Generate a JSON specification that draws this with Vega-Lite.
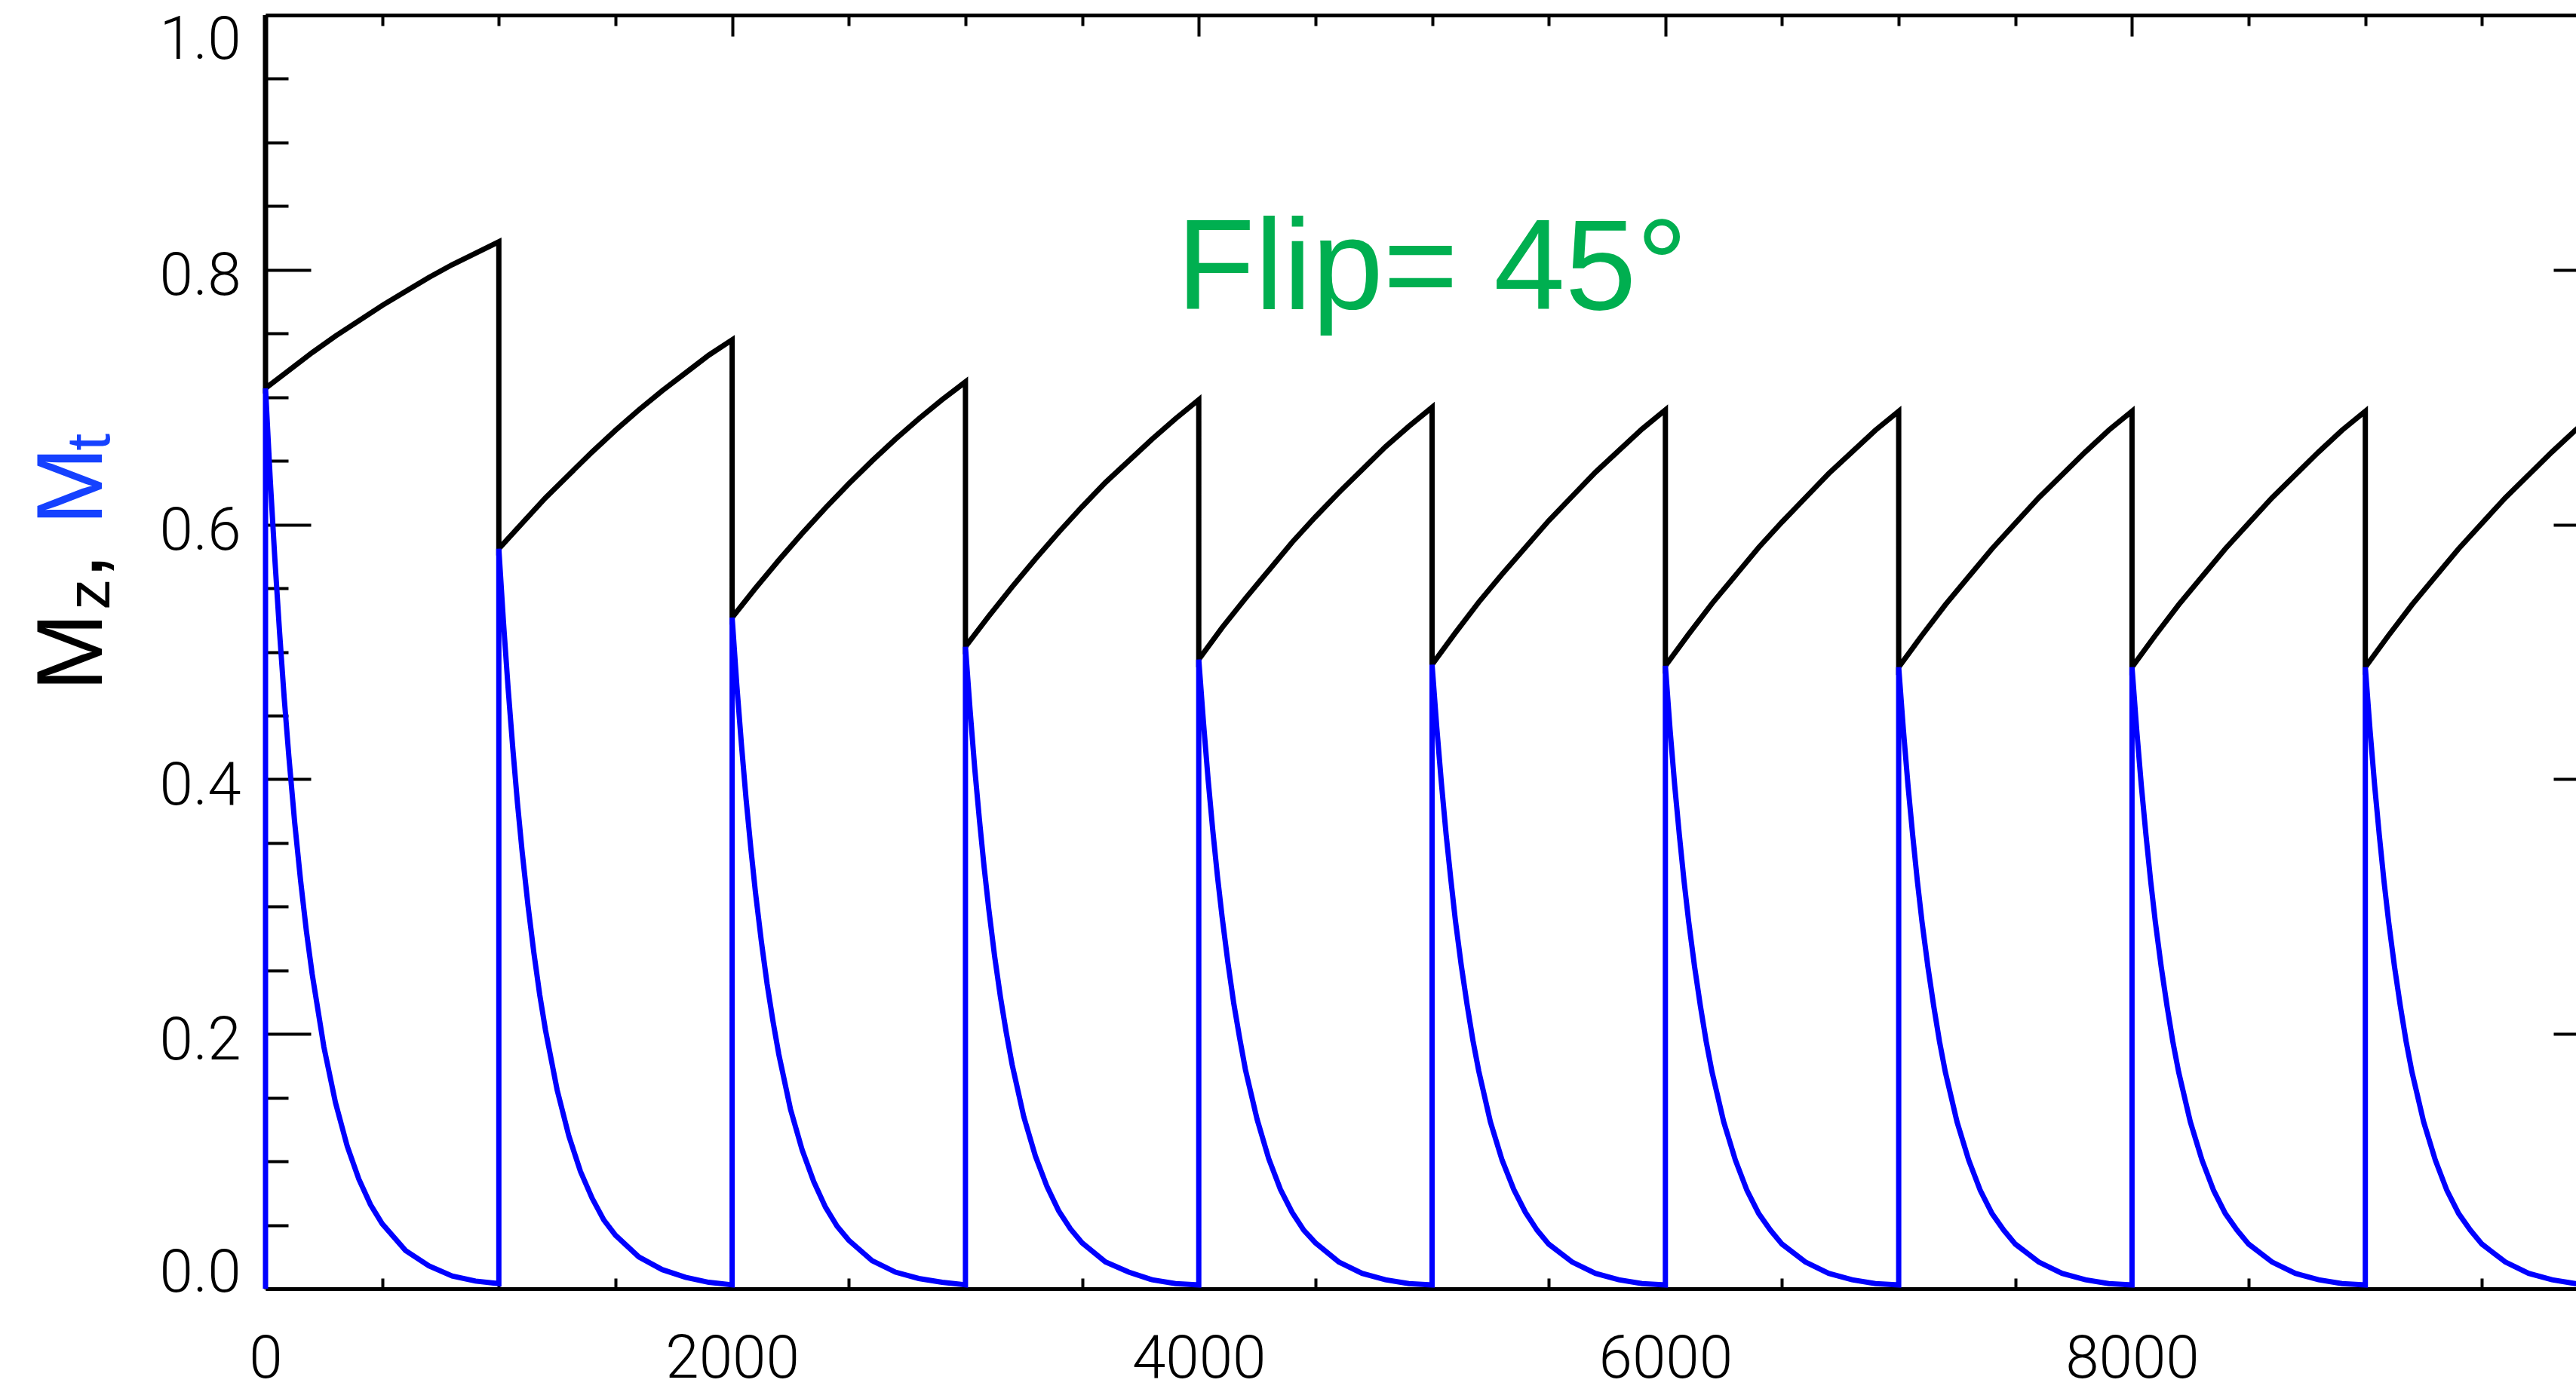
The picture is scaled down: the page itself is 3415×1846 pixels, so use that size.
{
  "$schema": "https://vega.github.io/schema/vega-lite/v6.json",
  "width": 3093,
  "height": 1689,
  "autosize": {"type": "none"},
  "padding": {"left": 352, "top": 20, "right": 0, "bottom": 137},
  "background": "white",
  "config": {
    "view": {"stroke": null},
    "axis": {
      "grid": false,
      "domainColor": "black",
      "domainWidth": 5,
      "tickColor": "black",
      "tickWidth": 4,
      "labelFont": "Roboto",
      "labelFontWeight": 300,
      "labelFontSize": 80,
      "labelColor": "black",
      "labelLimit": 1000,
      "title": null
    }
  },
  "datasets": {
    "mz": [
      {"t": 0, "v": 1.0, "k": 0}, {"t": 0, "v": 0.707, "k": 1},
      {"t": 100, "v": 0.721, "k": 2}, {"t": 200, "v": 0.735, "k": 3}, {"t": 300, "v": 0.748, "k": 4}, {"t": 400, "v": 0.760, "k": 5}, {"t": 500, "v": 0.772, "k": 6},
      {"t": 600, "v": 0.783, "k": 7}, {"t": 700, "v": 0.794, "k": 8}, {"t": 800, "v": 0.804, "k": 9}, {"t": 900, "v": 0.813, "k": 10}, {"t": 1000, "v": 0.822, "k": 11},
      {"t": 1000, "v": 0.581, "k": 12},
      {"t": 1100, "v": 0.601, "k": 13}, {"t": 1200, "v": 0.621, "k": 14}, {"t": 1300, "v": 0.639, "k": 15}, {"t": 1400, "v": 0.657, "k": 16}, {"t": 1500, "v": 0.674, "k": 17},
      {"t": 1600, "v": 0.690, "k": 18}, {"t": 1700, "v": 0.705, "k": 19}, {"t": 1800, "v": 0.719, "k": 20}, {"t": 1900, "v": 0.733, "k": 21}, {"t": 2000, "v": 0.745, "k": 22},
      {"t": 2000, "v": 0.527, "k": 23},
      {"t": 2100, "v": 0.550, "k": 24}, {"t": 2200, "v": 0.572, "k": 25}, {"t": 2300, "v": 0.593, "k": 26}, {"t": 2400, "v": 0.613, "k": 27}, {"t": 2500, "v": 0.632, "k": 28},
      {"t": 2600, "v": 0.650, "k": 29}, {"t": 2700, "v": 0.667, "k": 30}, {"t": 2800, "v": 0.683, "k": 31}, {"t": 2900, "v": 0.698, "k": 32}, {"t": 3000, "v": 0.712, "k": 33},
      {"t": 3000, "v": 0.504, "k": 34},
      {"t": 3100, "v": 0.528, "k": 35}, {"t": 3200, "v": 0.551, "k": 36}, {"t": 3300, "v": 0.573, "k": 37}, {"t": 3400, "v": 0.594, "k": 38}, {"t": 3500, "v": 0.614, "k": 39},
      {"t": 3600, "v": 0.633, "k": 40}, {"t": 3700, "v": 0.650, "k": 41}, {"t": 3800, "v": 0.667, "k": 42}, {"t": 3900, "v": 0.683, "k": 43}, {"t": 4000, "v": 0.698, "k": 44},
      {"t": 4000, "v": 0.494, "k": 45},
      {"t": 4100, "v": 0.519, "k": 46}, {"t": 4200, "v": 0.542, "k": 47}, {"t": 4300, "v": 0.564, "k": 48}, {"t": 4400, "v": 0.586, "k": 49}, {"t": 4500, "v": 0.606, "k": 50},
      {"t": 4600, "v": 0.625, "k": 51}, {"t": 4700, "v": 0.643, "k": 52}, {"t": 4800, "v": 0.661, "k": 53}, {"t": 4900, "v": 0.677, "k": 54}, {"t": 5000, "v": 0.692, "k": 55},
      {"t": 5000, "v": 0.490, "k": 56},
      {"t": 5100, "v": 0.515, "k": 57}, {"t": 5200, "v": 0.539, "k": 58}, {"t": 5300, "v": 0.561, "k": 59}, {"t": 5400, "v": 0.582, "k": 60}, {"t": 5500, "v": 0.603, "k": 61},
      {"t": 5600, "v": 0.622, "k": 62}, {"t": 5700, "v": 0.641, "k": 63}, {"t": 5800, "v": 0.658, "k": 64}, {"t": 5900, "v": 0.675, "k": 65}, {"t": 6000, "v": 0.690, "k": 66},
      {"t": 6000, "v": 0.489, "k": 67},
      {"t": 6100, "v": 0.514, "k": 68}, {"t": 6200, "v": 0.538, "k": 69}, {"t": 6300, "v": 0.560, "k": 70}, {"t": 6400, "v": 0.582, "k": 71}, {"t": 6500, "v": 0.602, "k": 72},
      {"t": 6600, "v": 0.621, "k": 73}, {"t": 6700, "v": 0.640, "k": 74}, {"t": 6800, "v": 0.657, "k": 75}, {"t": 6900, "v": 0.674, "k": 76}, {"t": 7000, "v": 0.689, "k": 77},
      {"t": 7000, "v": 0.488, "k": 78},
      {"t": 7100, "v": 0.513, "k": 79}, {"t": 7200, "v": 0.537, "k": 80}, {"t": 7300, "v": 0.559, "k": 81}, {"t": 7400, "v": 0.581, "k": 82}, {"t": 7500, "v": 0.601, "k": 83},
      {"t": 7600, "v": 0.621, "k": 84}, {"t": 7700, "v": 0.639, "k": 85}, {"t": 7800, "v": 0.657, "k": 86}, {"t": 7900, "v": 0.674, "k": 87}, {"t": 8000, "v": 0.689, "k": 88},
      {"t": 8000, "v": 0.488, "k": 89},
      {"t": 8100, "v": 0.513, "k": 90}, {"t": 8200, "v": 0.537, "k": 91}, {"t": 8300, "v": 0.559, "k": 92}, {"t": 8400, "v": 0.581, "k": 93}, {"t": 8500, "v": 0.601, "k": 94},
      {"t": 8600, "v": 0.621, "k": 95}, {"t": 8700, "v": 0.639, "k": 96}, {"t": 8800, "v": 0.657, "k": 97}, {"t": 8900, "v": 0.674, "k": 98}, {"t": 9000, "v": 0.689, "k": 99},
      {"t": 9000, "v": 0.488, "k": 100},
      {"t": 9100, "v": 0.513, "k": 101}, {"t": 9200, "v": 0.537, "k": 102}, {"t": 9300, "v": 0.559, "k": 103}, {"t": 9400, "v": 0.581, "k": 104}, {"t": 9500, "v": 0.601, "k": 105},
      {"t": 9600, "v": 0.621, "k": 106}, {"t": 9700, "v": 0.639, "k": 107}, {"t": 9800, "v": 0.657, "k": 108}, {"t": 9900, "v": 0.674, "k": 109}, {"t": 10000, "v": 0.689, "k": 110}
    ],
    "mt": [
      {"t": 0, "v": 0.0, "k": 0},
      {"t": 0, "v": 0.707, "k": 1}, {"t": 20, "v": 0.636, "k": 2}, {"t": 40, "v": 0.573, "k": 3}, {"t": 60, "v": 0.516, "k": 4}, {"t": 80, "v": 0.464, "k": 5}, {"t": 100, "v": 0.418, "k": 6}, {"t": 125, "v": 0.366, "k": 7}, {"t": 150, "v": 0.321, "k": 8}, {"t": 175, "v": 0.281, "k": 9}, {"t": 200, "v": 0.247, "k": 10}, {"t": 250, "v": 0.190, "k": 11}, {"t": 300, "v": 0.146, "k": 12}, {"t": 350, "v": 0.112, "k": 13}, {"t": 400, "v": 0.086, "k": 14}, {"t": 450, "v": 0.066, "k": 15}, {"t": 500, "v": 0.051, "k": 16}, {"t": 600, "v": 0.030, "k": 17}, {"t": 700, "v": 0.018, "k": 18}, {"t": 800, "v": 0.010, "k": 19}, {"t": 900, "v": 0.006, "k": 20}, {"t": 1000, "v": 0.004, "k": 21},
      {"t": 1000, "v": 0.581, "k": 22}, {"t": 1020, "v": 0.523, "k": 23}, {"t": 1040, "v": 0.471, "k": 24}, {"t": 1060, "v": 0.424, "k": 25}, {"t": 1080, "v": 0.381, "k": 26}, {"t": 1100, "v": 0.343, "k": 27}, {"t": 1125, "v": 0.301, "k": 28}, {"t": 1150, "v": 0.264, "k": 29}, {"t": 1175, "v": 0.231, "k": 30}, {"t": 1200, "v": 0.203, "k": 31}, {"t": 1250, "v": 0.156, "k": 32}, {"t": 1300, "v": 0.120, "k": 33}, {"t": 1350, "v": 0.092, "k": 34}, {"t": 1400, "v": 0.071, "k": 35}, {"t": 1450, "v": 0.054, "k": 36}, {"t": 1500, "v": 0.042, "k": 37}, {"t": 1600, "v": 0.025, "k": 38}, {"t": 1700, "v": 0.015, "k": 39}, {"t": 1800, "v": 0.009, "k": 40}, {"t": 1900, "v": 0.005, "k": 41}, {"t": 2000, "v": 0.003, "k": 42},
      {"t": 2000, "v": 0.527, "k": 43}, {"t": 2020, "v": 0.474, "k": 44}, {"t": 2040, "v": 0.427, "k": 45}, {"t": 2060, "v": 0.384, "k": 46}, {"t": 2080, "v": 0.346, "k": 47}, {"t": 2100, "v": 0.311, "k": 48}, {"t": 2125, "v": 0.273, "k": 49}, {"t": 2150, "v": 0.239, "k": 50}, {"t": 2175, "v": 0.210, "k": 51}, {"t": 2200, "v": 0.184, "k": 52}, {"t": 2250, "v": 0.141, "k": 53}, {"t": 2300, "v": 0.109, "k": 54}, {"t": 2350, "v": 0.084, "k": 55}, {"t": 2400, "v": 0.064, "k": 56}, {"t": 2450, "v": 0.049, "k": 57}, {"t": 2500, "v": 0.038, "k": 58}, {"t": 2600, "v": 0.022, "k": 59}, {"t": 2700, "v": 0.013, "k": 60}, {"t": 2800, "v": 0.008, "k": 61}, {"t": 2900, "v": 0.005, "k": 62}, {"t": 3000, "v": 0.003, "k": 63},
      {"t": 3000, "v": 0.504, "k": 64}, {"t": 3020, "v": 0.454, "k": 65}, {"t": 3040, "v": 0.408, "k": 66}, {"t": 3060, "v": 0.368, "k": 67}, {"t": 3080, "v": 0.331, "k": 68}, {"t": 3100, "v": 0.298, "k": 69}, {"t": 3125, "v": 0.261, "k": 70}, {"t": 3150, "v": 0.229, "k": 71}, {"t": 3175, "v": 0.201, "k": 72}, {"t": 3200, "v": 0.176, "k": 73}, {"t": 3250, "v": 0.135, "k": 74}, {"t": 3300, "v": 0.104, "k": 75}, {"t": 3350, "v": 0.080, "k": 76}, {"t": 3400, "v": 0.061, "k": 77}, {"t": 3450, "v": 0.047, "k": 78}, {"t": 3500, "v": 0.036, "k": 79}, {"t": 3600, "v": 0.021, "k": 80}, {"t": 3700, "v": 0.013, "k": 81}, {"t": 3800, "v": 0.007, "k": 82}, {"t": 3900, "v": 0.004, "k": 83}, {"t": 4000, "v": 0.003, "k": 84},
      {"t": 4000, "v": 0.494, "k": 85}, {"t": 4020, "v": 0.445, "k": 86}, {"t": 4040, "v": 0.400, "k": 87}, {"t": 4060, "v": 0.360, "k": 88}, {"t": 4080, "v": 0.324, "k": 89}, {"t": 4100, "v": 0.292, "k": 90}, {"t": 4125, "v": 0.256, "k": 91}, {"t": 4150, "v": 0.224, "k": 92}, {"t": 4175, "v": 0.197, "k": 93}, {"t": 4200, "v": 0.172, "k": 94}, {"t": 4250, "v": 0.133, "k": 95}, {"t": 4300, "v": 0.102, "k": 96}, {"t": 4350, "v": 0.078, "k": 97}, {"t": 4400, "v": 0.060, "k": 98}, {"t": 4450, "v": 0.046, "k": 99}, {"t": 4500, "v": 0.036, "k": 100}, {"t": 4600, "v": 0.021, "k": 101}, {"t": 4700, "v": 0.012, "k": 102}, {"t": 4800, "v": 0.007, "k": 103}, {"t": 4900, "v": 0.004, "k": 104}, {"t": 5000, "v": 0.003, "k": 105},
      {"t": 5000, "v": 0.490, "k": 106}, {"t": 5020, "v": 0.441, "k": 107}, {"t": 5040, "v": 0.397, "k": 108}, {"t": 5060, "v": 0.357, "k": 109}, {"t": 5080, "v": 0.322, "k": 110}, {"t": 5100, "v": 0.289, "k": 111}, {"t": 5125, "v": 0.254, "k": 112}, {"t": 5150, "v": 0.223, "k": 113}, {"t": 5175, "v": 0.195, "k": 114}, {"t": 5200, "v": 0.171, "k": 115}, {"t": 5250, "v": 0.131, "k": 116}, {"t": 5300, "v": 0.101, "k": 117}, {"t": 5350, "v": 0.078, "k": 118}, {"t": 5400, "v": 0.060, "k": 119}, {"t": 5450, "v": 0.046, "k": 120}, {"t": 5500, "v": 0.035, "k": 121}, {"t": 5600, "v": 0.021, "k": 122}, {"t": 5700, "v": 0.012, "k": 123}, {"t": 5800, "v": 0.007, "k": 124}, {"t": 5900, "v": 0.004, "k": 125}, {"t": 6000, "v": 0.003, "k": 126},
      {"t": 6000, "v": 0.489, "k": 127}, {"t": 6020, "v": 0.439, "k": 128}, {"t": 6040, "v": 0.395, "k": 129}, {"t": 6060, "v": 0.356, "k": 130}, {"t": 6080, "v": 0.320, "k": 131}, {"t": 6100, "v": 0.288, "k": 132}, {"t": 6125, "v": 0.253, "k": 133}, {"t": 6150, "v": 0.222, "k": 134}, {"t": 6175, "v": 0.194, "k": 135}, {"t": 6200, "v": 0.170, "k": 136}, {"t": 6250, "v": 0.131, "k": 137}, {"t": 6300, "v": 0.101, "k": 138}, {"t": 6350, "v": 0.077, "k": 139}, {"t": 6400, "v": 0.059, "k": 140}, {"t": 6450, "v": 0.046, "k": 141}, {"t": 6500, "v": 0.035, "k": 142}, {"t": 6600, "v": 0.021, "k": 143}, {"t": 6700, "v": 0.012, "k": 144}, {"t": 6800, "v": 0.007, "k": 145}, {"t": 6900, "v": 0.004, "k": 146}, {"t": 7000, "v": 0.003, "k": 147},
      {"t": 7000, "v": 0.488, "k": 148}, {"t": 7020, "v": 0.439, "k": 149}, {"t": 7040, "v": 0.395, "k": 150}, {"t": 7060, "v": 0.356, "k": 151}, {"t": 7080, "v": 0.320, "k": 152}, {"t": 7100, "v": 0.288, "k": 153}, {"t": 7125, "v": 0.253, "k": 154}, {"t": 7150, "v": 0.222, "k": 155}, {"t": 7175, "v": 0.194, "k": 156}, {"t": 7200, "v": 0.170, "k": 157}, {"t": 7250, "v": 0.131, "k": 158}, {"t": 7300, "v": 0.101, "k": 159}, {"t": 7350, "v": 0.077, "k": 160}, {"t": 7400, "v": 0.059, "k": 161}, {"t": 7450, "v": 0.046, "k": 162}, {"t": 7500, "v": 0.035, "k": 163}, {"t": 7600, "v": 0.021, "k": 164}, {"t": 7700, "v": 0.012, "k": 165}, {"t": 7800, "v": 0.007, "k": 166}, {"t": 7900, "v": 0.004, "k": 167}, {"t": 8000, "v": 0.003, "k": 168},
      {"t": 8000, "v": 0.488, "k": 169}, {"t": 8020, "v": 0.439, "k": 170}, {"t": 8040, "v": 0.395, "k": 171}, {"t": 8060, "v": 0.356, "k": 172}, {"t": 8080, "v": 0.320, "k": 173}, {"t": 8100, "v": 0.288, "k": 174}, {"t": 8125, "v": 0.253, "k": 175}, {"t": 8150, "v": 0.222, "k": 176}, {"t": 8175, "v": 0.194, "k": 177}, {"t": 8200, "v": 0.170, "k": 178}, {"t": 8250, "v": 0.131, "k": 179}, {"t": 8300, "v": 0.101, "k": 180}, {"t": 8350, "v": 0.077, "k": 181}, {"t": 8400, "v": 0.059, "k": 182}, {"t": 8450, "v": 0.046, "k": 183}, {"t": 8500, "v": 0.035, "k": 184}, {"t": 8600, "v": 0.021, "k": 185}, {"t": 8700, "v": 0.012, "k": 186}, {"t": 8800, "v": 0.007, "k": 187}, {"t": 8900, "v": 0.004, "k": 188}, {"t": 9000, "v": 0.003, "k": 189},
      {"t": 9000, "v": 0.488, "k": 190}, {"t": 9020, "v": 0.439, "k": 191}, {"t": 9040, "v": 0.395, "k": 192}, {"t": 9060, "v": 0.356, "k": 193}, {"t": 9080, "v": 0.320, "k": 194}, {"t": 9100, "v": 0.288, "k": 195}, {"t": 9125, "v": 0.253, "k": 196}, {"t": 9150, "v": 0.222, "k": 197}, {"t": 9175, "v": 0.194, "k": 198}, {"t": 9200, "v": 0.170, "k": 199}, {"t": 9250, "v": 0.131, "k": 200}, {"t": 9300, "v": 0.101, "k": 201}, {"t": 9350, "v": 0.077, "k": 202}, {"t": 9400, "v": 0.059, "k": 203}, {"t": 9450, "v": 0.046, "k": 204}, {"t": 9500, "v": 0.035, "k": 205}, {"t": 9600, "v": 0.021, "k": 206}, {"t": 9700, "v": 0.012, "k": 207}, {"t": 9800, "v": 0.007, "k": 208}, {"t": 9900, "v": 0.004, "k": 209}, {"t": 10000, "v": 0.003, "k": 210}
    ]
  },
  "layer": [
    {
      "data": {"name": "mz"},
      "mark": {"type": "line", "color": "black", "strokeWidth": 7, "strokeJoin": "miter"},
      "encoding": {
        "x": {
          "field": "t", "type": "quantitative",
          "scale": {"domain": [0, 10000], "nice": false, "zero": false},
          "axis": {
            "orient": "bottom",
            "values": [0, 500, 1000, 1500, 2000, 2500, 3000, 3500, 4000, 4500, 5000, 5500, 6000, 6500, 7000, 7500, 8000, 8500, 9000, 9500, 10000],
            "format": "d",
            "labelExpr": "datum.value % 2000 === 0 && datum.value < 10000 ? datum.label : ''",
            "labelFlush": false,
            "labelOverlap": false,
            "labelPadding": 82,
            "tickSize": {"condition": {"test": "datum.value % 2000 === 0", "value": -28}, "value": -14}
          }
        },
        "y": {
          "field": "v", "type": "quantitative",
          "scale": {"domain": [0, 1], "nice": false, "zero": false},
          "axis": {
            "orient": "left",
            "values": [0, 0.05, 0.1, 0.15, 0.2, 0.25, 0.3, 0.35, 0.4, 0.45, 0.5, 0.55, 0.6, 0.65, 0.7, 0.75, 0.8, 0.85, 0.9, 0.95, 1],
            "labelExpr": "round(datum.value * 100) % 20 === 0 ? format(datum.value, '.1f') : ''",
            "labelFlush": false,
            "labelOverlap": false,
            "labelPadding": 93,
            "labelBaseline": {"condition": [{"test": "datum.value === 1", "value": "top"}, {"test": "datum.value === 0", "value": "alphabetic"}], "value": "middle"},
            "labelOffset": {"condition": [{"test": "datum.value === 1", "value": -6}, {"test": "datum.value === 0", "value": 3}], "value": 9},
            "tickSize": {"condition": {"test": "round(datum.value * 100) % 20 === 0", "value": -60}, "value": -30}
          }
        },
        "order": {"field": "k", "type": "quantitative"}
      }
    },
    {
      "data": {"name": "mt"},
      "mark": {"type": "line", "color": "#0000ff", "strokeWidth": 7, "strokeJoin": "miter"},
      "encoding": {
        "x": {
          "field": "t", "type": "quantitative",
          "scale": {"domain": [0, 10000], "nice": false, "zero": false},
          "axis": {
            "orient": "top",
            "values": [0, 500, 1000, 1500, 2000, 2500, 3000, 3500, 4000, 4500, 5000, 5500, 6000, 6500, 7000, 7500, 8000, 8500, 9000, 9500, 10000],
            "labels": false,
            "tickSize": {"condition": {"test": "datum.value % 2000 === 0", "value": -28}, "value": -14}
          }
        },
        "y": {
          "field": "v", "type": "quantitative",
          "scale": {"domain": [0, 1], "nice": false, "zero": false},
          "axis": {
            "orient": "right",
            "values": [0, 0.05, 0.1, 0.15, 0.2, 0.25, 0.3, 0.35, 0.4, 0.45, 0.5, 0.55, 0.6, 0.65, 0.7, 0.75, 0.8, 0.85, 0.9, 0.95, 1],
            "labels": false,
            "tickSize": {"condition": {"test": "round(datum.value * 100) % 20 === 0", "value": -60}, "value": -30}
          }
        },
        "order": {"field": "k", "type": "quantitative"}
      }
    },
    {
      "data": {"values": [{"label": "Flip= 45°"}]},
      "mark": {"type": "text", "font": "Liberation Sans", "fontSize": 170, "color": "#00af50", "align": "center", "baseline": "alphabetic"},
      "encoding": {
        "x": {"datum": 5000, "type": "quantitative", "axis": null},
        "y": {"datum": 0.769, "type": "quantitative", "axis": null},
        "text": {"field": "label"}
      }
    },
    {
      "data": {"values": [{"label": "M"}]},
      "mark": {"type": "text", "font": "Liberation Sans", "fontSize": 125, "color": "black", "angle": 270, "align": "left", "baseline": "alphabetic"},
      "encoding": {
        "x": {"datum": -702, "type": "quantitative", "axis": null},
        "y": {"datum": 0.469, "type": "quantitative", "axis": null},
        "text": {"field": "label"}
      }
    },
    {
      "data": {"values": [{"label": "z"}]},
      "mark": {"type": "text", "font": "Liberation Sans", "fontSize": 82, "color": "black", "angle": 270, "align": "left", "baseline": "alphabetic"},
      "encoding": {
        "x": {"datum": -670, "type": "quantitative", "axis": null},
        "y": {"datum": 0.533, "type": "quantitative", "axis": null},
        "text": {"field": "label"}
      }
    },
    {
      "data": {"values": [{"label": ","}]},
      "mark": {"type": "text", "font": "Liberation Sans", "fontSize": 125, "color": "black", "angle": 270, "align": "left", "baseline": "alphabetic"},
      "encoding": {
        "x": {"datum": -702, "type": "quantitative", "axis": null},
        "y": {"datum": 0.557, "type": "quantitative", "axis": null},
        "text": {"field": "label"}
      }
    },
    {
      "data": {"values": [{"label": "M"}]},
      "mark": {"type": "text", "font": "Liberation Sans", "fontSize": 125, "color": "#1541ff", "angle": 270, "align": "left", "baseline": "alphabetic"},
      "encoding": {
        "x": {"datum": -702, "type": "quantitative", "axis": null},
        "y": {"datum": 0.5995, "type": "quantitative", "axis": null},
        "text": {"field": "label"}
      }
    },
    {
      "data": {"values": [{"label": "t"}]},
      "mark": {"type": "text", "font": "Liberation Sans", "fontSize": 82, "color": "#1541ff", "angle": 270, "align": "left", "baseline": "alphabetic"},
      "encoding": {
        "x": {"datum": -670, "type": "quantitative", "axis": null},
        "y": {"datum": 0.658, "type": "quantitative", "axis": null},
        "text": {"field": "label"}
      }
    }
  ],
  "resolve": {"axis": {"x": "independent", "y": "independent"}}
}
